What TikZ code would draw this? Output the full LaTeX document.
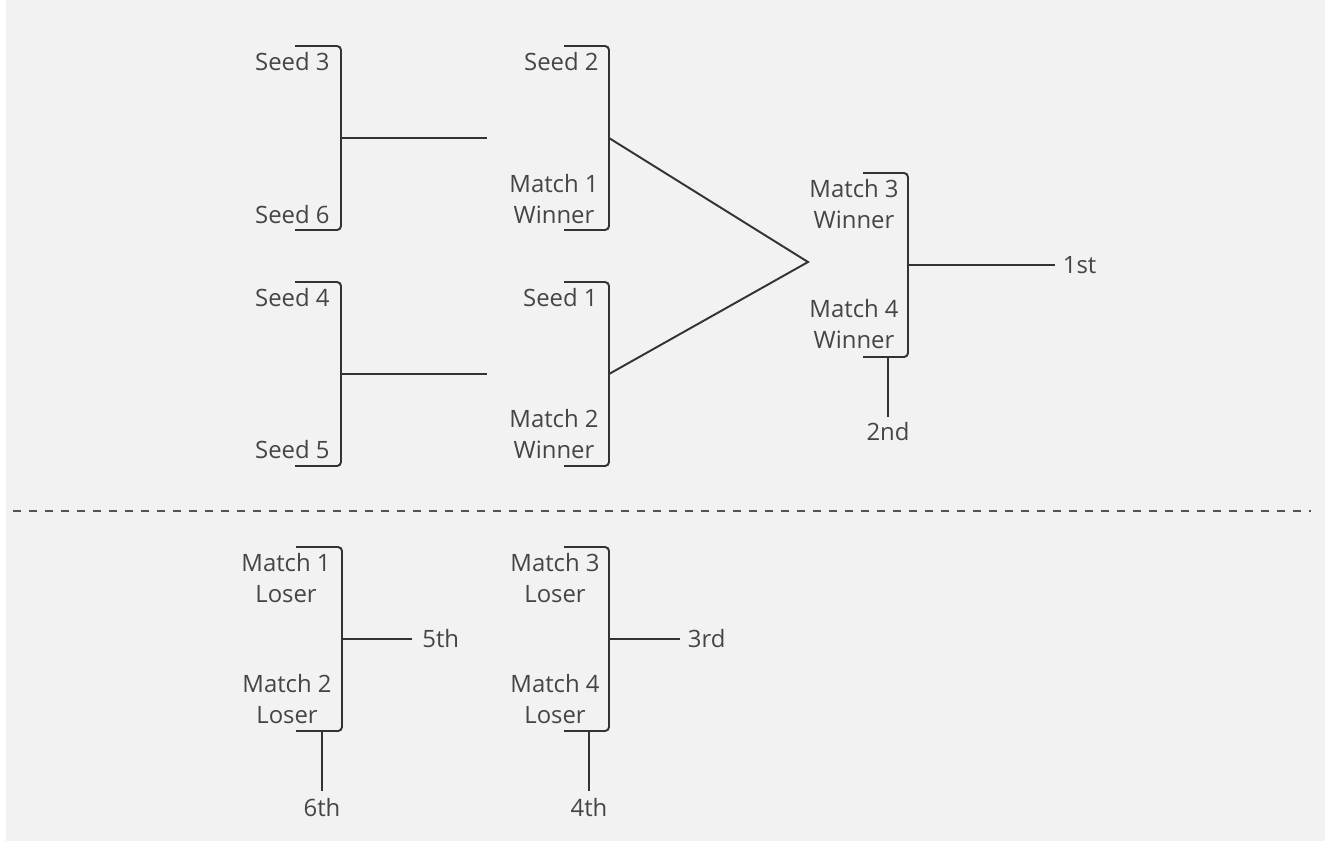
\documentclass[tikz,border=0pt]{standalone}
\usepackage{fontspec}
\setmainfont{Open Sans}
\usetikzlibrary{positioning}
\definecolor{bg}{HTML}{F2F2F2}
\definecolor{ink}{HTML}{333333}
\definecolor{txt}{HTML}{454545}
\tikzset{
  bracket/.style={draw=ink, line width=1.1pt, rounded corners=0.08cm},
  link/.style={draw=ink, line width=1.1pt},
  lbl/.style={text=txt, inner sep=0pt, align=center, font=\fontsize{13.6}{17.6}\selectfont},
  split/.style={draw=ink!85, line width=1.1pt, dash pattern=on 0.16cm off 0.16cm}
}
\begin{document}
\begin{tikzpicture}[x=0.02cm, y=-0.02cm, node distance=0.15cm]
  \useasboundingbox (0,0) rectangle (1327,840);
  \fill[white] (-5,-5) rectangle (1335,845);
  \fill[bg] (6,-5) rectangle (1325,845);

  % first round
  \draw[bracket] (295,46) -- (341,46) -- (341,230) -- (295,230);
  \draw[bracket] (295,282) -- (341,282) -- (341,466) -- (295,466);
  \node[lbl, anchor=base east] (seed3) at (330,70) {Seed 3};
  \node[lbl, anchor=base east] (seed6) at (330,223) {Seed 6};
  \node[lbl, anchor=base east] (seed4) at (330,306) {Seed 4};
  \node[lbl, anchor=base east] (seed5) at (330,458) {Seed 5};
  \coordinate (qa) at (341,138);
  \coordinate (qa end) at (487,138);
  \coordinate (qb) at (341,374);
  \coordinate (qb end) at (487,374);
  \draw[link] (qa) -- (qa end);
  \draw[link] (qb) -- (qb end);

  % second round
  \draw[bracket] (564,46) -- (609,46) -- (609,230) -- (564,230);
  \draw[bracket] (564,282) -- (609,282) -- (609,466) -- (564,466);
  \node[lbl, anchor=base east] (seed2) at (599,70) {Seed 2};
  \node[lbl, anchor=base east] (m1win) at (599,223) {Match 1\\Winner};
  \node[lbl, anchor=base east] (seed1) at (598,306) {Seed 1};
  \node[lbl, anchor=base east] (m2win) at (599,458) {Match 2\\Winner};
  \coordinate (sa) at (609,138);
  \coordinate (sb) at (609,374);
  \coordinate (apex) at (808,262);
  \draw[link] (sa) -- (apex) -- (sb);

  % final
  \draw[bracket] (863,173) -- (908,173) -- (908,357) -- (863,357);
  \node[lbl, anchor=base east] (m3win) at (899,228) {Match 3\\Winner};
  \node[lbl, anchor=base east] (m4win) at (899,348) {Match 4\\Winner};
  \coordinate (fin) at (908,265);
  \coordinate (fin end) at (1055,265);
  \coordinate (fin drop) at (888,357);
  \coordinate (fin low) at (888,417);
  \draw[link] (fin) -- (fin end);
  \draw[link] (fin drop) -- (fin low);
  \node[lbl, right=of fin end] (first) {1st};
  \node[lbl, below=0.1cm of fin low] (second) {2nd};

  \draw[split] (13,511) -- (1311,511);

  % places 3 to 6
  \draw[bracket] (296,547) -- (342,547) -- (342,731) -- (296,731);
  \draw[bracket] (564,547) -- (609,547) -- (609,731) -- (564,731);
  \node[lbl, anchor=base east] (m1lose) at (331,602) {Match 1\\Loser};
  \node[lbl, anchor=base east] (m2lose) at (332,723) {Match 2\\Loser};
  \node[lbl, anchor=base east] (m3lose) at (600,602) {Match 3\\Loser};
  \node[lbl, anchor=base east] (m4lose) at (600,723) {Match 4\\Loser};
  \coordinate (la) at (342,639);
  \coordinate (la end) at (412,639);
  \coordinate (la drop) at (322,731);
  \coordinate (la low) at (322,791);
  \coordinate (lb) at (609,639);
  \coordinate (lb end) at (680,639);
  \coordinate (lb drop) at (589,731);
  \coordinate (lb low) at (589,791);
  \draw[link] (la) -- (la end);
  \draw[link] (la drop) -- (la low);
  \draw[link] (lb) -- (lb end);
  \draw[link] (lb drop) -- (lb low);
  \node[lbl, right=0.2cm of la end] (fifth) {5th};
  \node[lbl, below=0.13cm of la low] (sixth) {6th};
  \node[lbl, right=of lb end] (third) {3rd};
  \node[lbl, below=0.13cm of lb low] (fourth) {4th};
\end{tikzpicture}
\end{document}
